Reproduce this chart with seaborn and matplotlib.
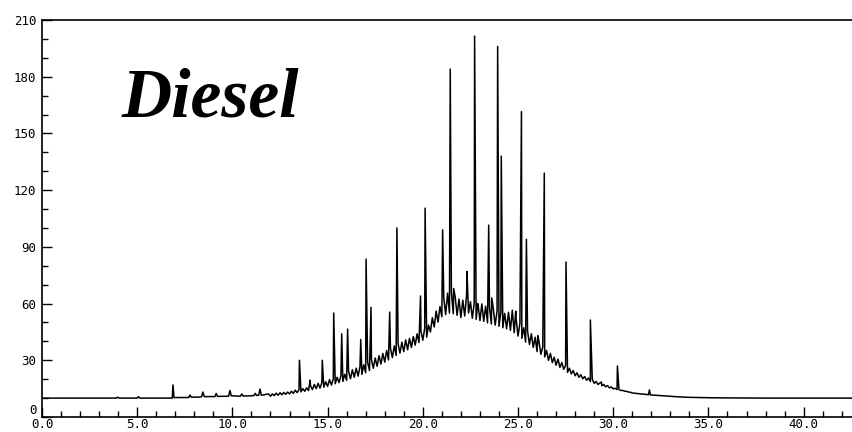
import numpy as np
import pandas as pd
import matplotlib
matplotlib.use("Agg")
import matplotlib.pyplot as plt
from matplotlib.ticker import MultipleLocator, FormatStrFormatter
import seaborn as sns

# Early, nearly flat part of the run (retention time in min, detector response)
low_t = [0.0, 3.9, 3.97, 4.04, 5.0, 5.07, 5.14, 6.84, 6.93, 7.7, 7.77, 7.84,
         8.2, 8.38, 8.45, 8.52, 9.08, 9.15, 9.22, 9.8, 9.87, 9.94, 10.42, 10.49,
         10.56, 11.13, 11.2, 11.27, 11.38, 11.45, 11.52, 11.9]
low_v = [10.0, 10.0, 10.5, 10.0, 10.0, 10.8, 10.0, 10.0, 10.3, 10.3, 11.6, 10.5,
         10.5, 10.7, 13.2, 10.8, 10.8, 12.4, 10.9, 11.0, 14.0, 11.2, 11.0, 12.2,
         11.1, 11.3, 12.5, 11.4, 11.5, 14.8, 11.5, 12.2]

# Unresolved hump, sampled every 0.1 min from 12.0 to 31.0
hump_v = [
    11.0, 12.2, 11.3, 12.6, 11.5, 12.8, 11.8, 13.0, 12.0, 13.2,   # 12.0
    12.2, 13.6, 12.5, 14.2, 12.9, 14.5, 13.3, 15.0, 13.6, 15.4,   # 13.0
    14.0, 16.6, 14.5, 17.2, 15.0, 17.8, 15.3, 18.2, 15.8, 18.6,   # 14.0
    16.2, 19.8, 16.9, 20.2, 17.6, 21.0, 18.2, 21.8, 18.8, 22.6,   # 15.0
    19.4, 24.2, 20.2, 25.0, 21.0, 25.8, 21.6, 26.6, 22.5, 27.6,   # 16.0
    23.4, 29.0, 24.6, 30.4, 25.8, 31.2, 26.8, 32.4, 28.0, 33.6,   # 17.0
    29.0, 35.2, 30.2, 36.4, 31.4, 37.6, 32.6, 38.8, 33.8, 39.6,   # 18.0
    34.6, 40.8, 35.6, 41.6, 36.8, 42.6, 38.0, 44.0, 39.4, 45.4,   # 19.0
    40.6, 47.0, 42.2, 48.6, 45.0, 52.5, 47.6, 56.0, 50.2, 58.4,   # 20.0
    53.0, 63.0, 54.2, 65.5, 55.0, 66.0, 54.6, 63.5, 53.8, 62.4,   # 21.0
    52.6, 61.8, 53.4, 64.8, 55.0, 61.0, 52.2, 60.2, 51.6, 59.6,   # 22.0
    51.0, 59.8, 50.6, 58.6, 49.8, 58.2, 49.2, 57.4, 48.6, 56.2,   # 23.0
    48.0, 55.6, 47.2, 54.8, 46.6, 55.4, 45.8, 56.5, 44.6, 52.0,   # 24.0
    42.8, 49.6, 41.6, 47.2, 39.6, 45.6, 38.4, 44.0, 36.8, 42.2,   # 25.0
    34.6, 40.0, 33.2, 37.0, 31.8, 35.2, 30.0, 33.6, 28.8, 31.6,   # 26.0
    27.4, 30.6, 26.2, 28.8, 25.2, 27.4, 23.6, 25.8, 22.8, 24.6,   # 27.0
    21.8, 23.4, 21.0, 22.4, 20.2, 21.4, 19.4, 20.6, 18.8, 19.8,   # 28.0
    17.8, 18.8, 17.2, 18.0, 16.5, 17.2, 16.0, 16.6, 15.4, 15.9,   # 29.0
    14.9, 15.2, 14.5, 14.6, 14.0, 14.1, 13.6, 13.6, 13.2, 13.1,   # 30.0
    12.7,                                                         # 31.0
]
hump_t = list(np.round(np.arange(12.0, 31.05, 0.1), 1))

# Late baseline after elution
tail_t = [31.5, 31.85, 31.95, 32.5, 33.0, 33.5, 34.0, 35.0, 36.0, 38.0, 42.6]
tail_v = [12.2, 11.8, 11.7, 11.3, 10.9, 10.6, 10.4, 10.2, 10.1, 10.0, 10.0]

# Resolved peaks: apex retention time and height
peak_t = [6.88, 13.52, 14.08, 14.72, 15.32, 15.74, 16.05, 16.74, 17.02, 17.28,
          18.26, 18.64, 19.88, 20.12, 21.04, 21.44, 21.62, 22.32, 22.72, 22.88,
          23.46, 23.62, 23.93, 24.12, 24.88, 25.18, 25.44, 26.04, 26.38, 27.52,
          28.80, 29.38, 30.22, 31.90]
peak_h = [17.0, 30.0, 19.5, 30.0, 55.0, 44.0, 46.5, 41.0, 83.5, 58.0,
          55.5, 100.0, 64.0, 110.5, 99.0, 184.0, 68.0, 77.0, 201.5, 60.0,
          101.5, 63.0, 196.0, 138.0, 56.0, 161.5, 94.0, 43.0, 129.0, 82.0,
          51.3, 18.5, 27.0, 14.3]

x_major = [0.0, 5.0, 10.0, 15.0, 20.0, 25.0, 30.0, 35.0, 40.0]
y_major = [0, 30, 60, 90, 120, 150, 180, 210]

trace = pd.DataFrame({
    "time": low_t + hump_t + tail_t + peak_t,
    "signal": low_v + hump_v + tail_v + peak_h,
}).sort_values("time").reset_index(drop=True)

sns.set_style("ticks")
plt.rcParams["font.family"] = ["DejaVu Sans Mono", "DejaVu Sans"]

fig = plt.figure(figsize=(8.52, 4.32), dpi=100)
ax = fig.add_axes([42 / 852, 15 / 432, 810 / 852, 397 / 432])

sns.lineplot(data=trace, x="time", y="signal", estimator=None, sort=True,
             color="black", linewidth=1.1, ax=ax)

ax.set_xlim(0, 42.54)
ax.set_ylim(0, 210)
ax.set_xlabel("")
ax.set_ylabel("")

ax.set_xticks(x_major)
ax.xaxis.set_major_formatter(FormatStrFormatter("%.1f"))
ax.xaxis.set_minor_locator(MultipleLocator(1.0))
ax.set_yticks(y_major)
ax.yaxis.set_minor_locator(MultipleLocator(10))

ax.tick_params(axis="both", which="major", direction="in", length=7, width=1.0,
               color="black", labelsize=9, labelcolor="black")
ax.tick_params(axis="both", which="minor", direction="in", length=4, width=1.0,
               color="black")
ax.tick_params(axis="x", which="major", pad=1)
ax.tick_params(axis="y", which="major", pad=4)

for lbl in ax.get_yticklabels():
    if lbl.get_text() == "0":
        lbl.set_verticalalignment("bottom")

for side in ("left", "bottom", "top"):
    ax.spines[side].set_visible(True)
    ax.spines[side].set_color("black")
    ax.spines[side].set_linewidth(1.2)
ax.spines["right"].set_visible(False)

fig.text(122 / 852, 1 - 117 / 432, "Diesel", family="Liberation Serif",
         fontweight="bold", fontstyle="italic", fontsize=50,
         ha="left", va="baseline", color="black")

fig.savefig("out.png", dpi=100, facecolor="white")
